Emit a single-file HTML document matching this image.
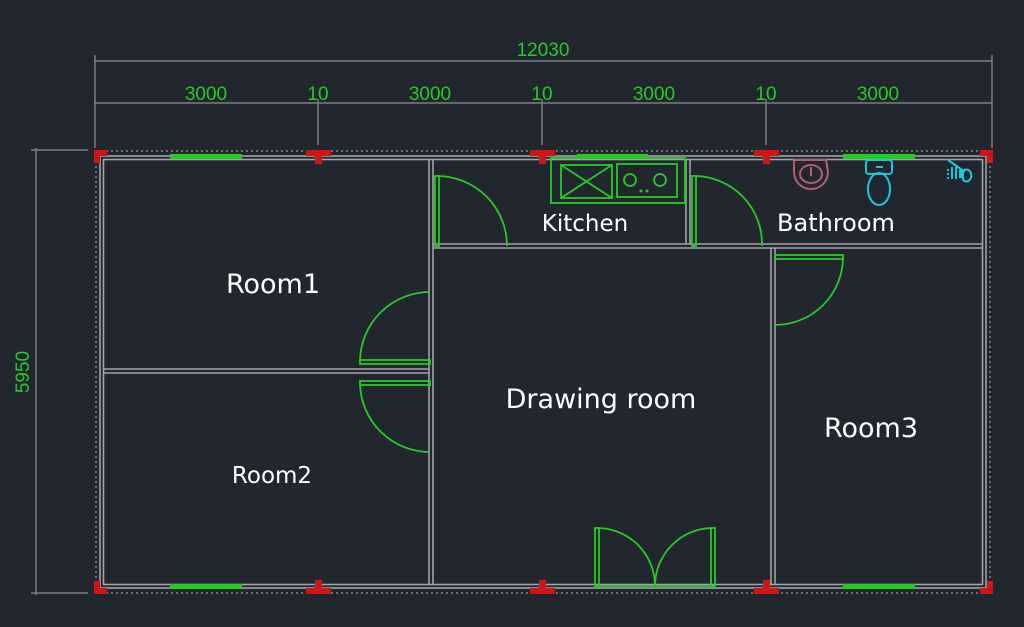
<!DOCTYPE html>
<html><head><meta charset="utf-8"><style>
html,body{margin:0;padding:0;background:#22262f;}
svg{display:block}
text{font-family:"DejaVu Sans","Liberation Sans",sans-serif}
text.d{font-family:"Liberation Sans",Arial,sans-serif}
</style></head><body>
<svg width="1024" height="627" viewBox="0 0 1024 627" xmlns="http://www.w3.org/2000/svg">
<rect width="1024" height="627" fill="#22262f"/>
<g stroke="#7a7d82" stroke-width="1.5" fill="none">
<line x1="94" y1="61" x2="992" y2="61"/>
<line x1="94" y1="103" x2="992" y2="103"/>
<line x1="95" y1="55" x2="95" y2="148"/>
<line x1="992" y1="55" x2="992" y2="148"/>
<line x1="318" y1="99" x2="318" y2="145"/>
<line x1="542" y1="99" x2="542" y2="145"/>
<line x1="766" y1="99" x2="766" y2="145"/>
<line x1="36" y1="148" x2="36" y2="595"/>
<line x1="31" y1="150" x2="88" y2="150"/>
<line x1="31" y1="593" x2="88" y2="593"/>
</g>
<g fill="#22cc22" font-size="19" text-anchor="middle">
<text class="d" x="543" y="56">12030</text>
<text class="d" x="206" y="100">3000</text>
<text class="d" x="318" y="100">10</text>
<text class="d" x="430" y="100">3000</text>
<text class="d" x="542" y="100">10</text>
<text class="d" x="654" y="100">3000</text>
<text class="d" x="766" y="100">10</text>
<text class="d" x="878" y="100">3000</text>
<text class="d" transform="translate(29,372) rotate(-90)">5950</text>
</g>
<g stroke="#6a6d72" stroke-width="2" stroke-dasharray="2 3" fill="none">
<line x1="96" y1="151" x2="990" y2="151"/>
<line x1="96" y1="593" x2="990" y2="593"/>
<line x1="96" y1="151" x2="96" y2="593"/>
<line x1="990" y1="151" x2="990" y2="593"/>
</g>
<g stroke="#a0a3a8" stroke-width="1.6" fill="none">
<rect x="100" y="156" width="886" height="432"/>
<rect x="103.5" y="159.5" width="879" height="425"/>
<line x1="429" y1="160" x2="429" y2="584"/><line x1="433" y1="160" x2="433" y2="584"/>
<line x1="104" y1="369" x2="429" y2="369"/><line x1="104" y1="373" x2="429" y2="373"/>
<line x1="433" y1="244" x2="982" y2="244"/><line x1="433" y1="248" x2="982" y2="248"/>
<line x1="686" y1="160" x2="686" y2="244"/><line x1="690" y1="160" x2="690" y2="244"/>
<line x1="771" y1="248" x2="771" y2="584"/><line x1="775" y1="248" x2="775" y2="584"/>
</g>
<g fill="#22cc22">
<rect x="170" y="154" width="72" height="5"/>
<rect x="577" y="154" width="71" height="5"/>
<rect x="843" y="154" width="72" height="5"/>
<rect x="170" y="584" width="72" height="5"/>
<rect x="843" y="584" width="72" height="5"/>
</g>
<g fill="#d01515">
<rect x="94" y="150" width="13" height="6"/><rect x="94" y="150" width="6" height="13"/>
<rect x="980" y="150" width="13" height="6"/><rect x="987" y="150" width="6" height="13"/>
<rect x="94" y="588" width="13" height="6"/><rect x="94" y="581" width="6" height="13"/>
<rect x="980" y="588" width="13" height="6"/><rect x="987" y="581" width="6" height="13"/>
<rect x="306" y="150" width="25" height="6"/><rect x="315" y="150" width="7" height="14"/>
<rect x="530" y="150" width="25" height="6"/><rect x="539" y="150" width="7" height="14"/>
<rect x="754" y="150" width="25" height="6"/><rect x="763" y="150" width="7" height="14"/>
<rect x="306" y="588" width="25" height="6"/><rect x="315" y="580" width="7" height="14"/>
<rect x="530" y="588" width="25" height="6"/><rect x="539" y="580" width="7" height="14"/>
<rect x="754" y="588" width="25" height="6"/><rect x="763" y="580" width="7" height="14"/>
</g>
<g stroke="#22cc22" stroke-width="1.8" fill="none">
<rect x="435" y="176" width="4" height="70"/><path d="M437 176 A70 70 0 0 1 507 246"/>
<rect x="692" y="176" width="4" height="70"/><path d="M694 176 A68 68 0 0 1 762 246"/>
<rect x="775" y="255" width="68" height="4"/><path d="M843 257 A68 68 0 0 1 775 325"/>
<rect x="360" y="360" width="70" height="4"/><path d="M360 362 A70 70 0 0 1 430 292"/>
<rect x="360" y="381" width="70" height="4"/><path d="M360 383 A70 70 0 0 0 430 452"/>
<rect x="595" y="528" width="4" height="58"/><path d="M597 528 A58 58 0 0 1 655 586"/>
<rect x="711" y="528" width="4" height="58"/><path d="M713 528 A58 58 0 0 0 655 586"/>
<line x1="595" y1="586" x2="715" y2="586"/>
</g>
<g stroke="#22cc22" stroke-width="1.8" fill="none">
<rect x="551" y="158" width="134" height="45"/>
<rect x="561" y="165" width="51" height="33"/>
<line x1="561" y1="165" x2="612" y2="198"/><line x1="612" y1="165" x2="561" y2="198"/>
<rect x="617" y="164" width="60" height="33"/>
<circle cx="630" cy="180" r="6"/><circle cx="660" cy="180" r="6"/>
</g>
<circle cx="641" cy="191" r="1.5" fill="#22cc22"/><circle cx="647" cy="191" r="1.5" fill="#22cc22"/>
<g stroke="#b0606c" stroke-width="2" fill="none">
<path d="M794 160 L826 160 L828 172 A17 17 0 0 1 794 172 Z"/>
<ellipse cx="811" cy="174" rx="11" ry="9"/>
<line x1="811" y1="167" x2="811" y2="176"/>
</g>
<g stroke="#1cc8d8" stroke-width="2" fill="none">
<rect x="866" y="160" width="26" height="14" rx="3"/>
<ellipse cx="879" cy="189" rx="11" ry="16"/>
<line x1="876" y1="167" x2="883" y2="167"/>
<line x1="948" y1="160" x2="965" y2="172"/>
<path d="M963 171 A5 6 0 1 1 963 180 Z"/>
</g>
<g fill="#1cc8d8"><rect x="947" y="169" width="2" height="2"/><rect x="951" y="167" width="2" height="12"/><rect x="955" y="167" width="2" height="12"/><rect x="947" y="173" width="2" height="2"/><rect x="947" y="177" width="2" height="2"/><rect x="959" y="170" width="3" height="8"/></g>
<g fill="#ffffff" text-anchor="middle">
<text x="273" y="293" font-size="27">Room1</text>
<text x="272" y="483" font-size="23">Room2</text>
<text x="601" y="408" font-size="27">Drawing room</text>
<text x="871" y="437" font-size="27">Room3</text>
<text x="585" y="231" font-size="23">Kitchen</text>
<text x="836" y="231" font-size="24">Bathroom</text>
</g>
</svg>
</body></html>
